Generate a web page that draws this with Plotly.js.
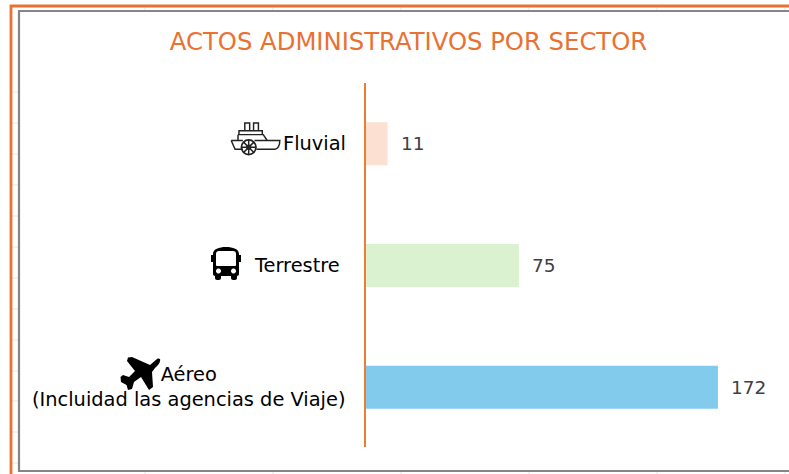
<!DOCTYPE html>
<html><head><meta charset="utf-8">
<script src="https://cdn.plot.ly/plotly-3.0.1.min.js"></script>
<style>html,body{margin:0;padding:0;background:#fff;overflow:hidden}</style>
</head><body><div id="chart" style="width:789px;height:474px"></div>
<script>
const categories = ["Aéreo<br>(Incluidad las agencias de Viaje)", "Terrestre", "Fluvial"];
const values = [172, 75, 11];
const barColors = ["#83CBEC", "#DAF2D0", "#FCE1D3"];
const labelShift = [-17, -23, -17];
const titleText = "ACTOS ADMINISTRATIVOS POR SECTOR";
const ORANGE = "#E97132";
const sheetRows = [92, 123, 154, 185, 216, 247, 278, 309, 340, 371, 401, 432, 463];
const sheetCols = [145, 273, 401, 529, 657, 785];

const W = 789, H = 474, L = 365, T = 83, PW = 424, PH = 365;
const px = x => (x - L) / PW;
const py = y => 1 - (y - T) / PH;

const svg = s => "data:image/svg+xml;charset=utf-8," + encodeURIComponent(s);
const shipSvg = `<svg xmlns="http://www.w3.org/2000/svg" viewBox="0 0 52 36"><g fill="none" stroke="#222" stroke-width="1.5">
<path d="M15 9V1h5v8M24 9V1h5v8M9 9h24v4H9zM8 13v6M8 13h26l4 6"/>
<path d="M1 19h12M25 19h26c0 5-2 9-5 9H27M13 28H5L1 19"/>
<circle cx="19" cy="26" r="7.500" stroke-width="1.800"/><circle cx="19" cy="26" r="2"/>
<path d="M19 18.500v15M11.500 26h15M13.700 20.700l10.600 10.600M24.300 20.700L13.700 31.300"/></g></svg>`;
const busSvg = `<svg xmlns="http://www.w3.org/2000/svg" viewBox="0 0 32 33"><path fill="#000" fill-rule="evenodd" d="M3 7C3 2 9 0 16 0s13 2 13 7v1h2v7h-2v12c0 1-1 2-2 2v2c0 1-1 2-2 2h-2c-1 0-2-1-2-2v-2H11v2c0 1-1 2-2 2H7c-1 0-2-1-2-2v-2c-1 0-2-1-2-2V15H1V8h2zM6 7v11c0 1 1 1 1 1h18s1 0 1-1V7c0-2-1-3-3-3H9C7 4 6 5 6 7zM8.500 21.500a2.500 2.500 0 1 0 .01 0zM23.500 21.500a2.500 2.500 0 1 0 .01 0z"/></svg>`;
const planeSvg = `<svg xmlns="http://www.w3.org/2000/svg" viewBox="0 0 42 35"><path fill="#000" d="M9 1.500L13 1L31 9L38 3C40 2 42 3 41 5C41 7 39 9 36 12L33 16L34 31L30 34L22 21L15 26L13 33L9 34L7.500 29L2 26L1.500 21L4 19L10 21L16 15L8 5z"/></svg>`;

const annotations = categories.map((c, i) => ({
  x: 0, y: c, xref: "x", yref: "y", text: c, showarrow: false, xanchor: "right",
  xshift: labelShift[i], align: "center",
  font: {family: "DejaVu Sans", size: 19.4, color: "#000"}
})).concat(values.map((v, i) => ({
  x: v, y: categories[i], xref: "x", yref: "y", text: String(v), showarrow: false,
  xanchor: "left", xshift: 11,
  font: {family: "DejaVu Sans", size: 18.5, color: "#404040"}
})));

const rect = (x0, y0, x1, y1, color, width) => ({type: "rect", xref: "paper", yref: "paper", layer: "below",
  x0: px(x0), x1: px(x1), y0: py(y0), y1: py(y1), line: {color, width}, fillcolor: "rgba(0,0,0,0)"});
const hLine = y => ({type: "line", xref: "paper", yref: "paper", layer: "below", x0: px(12), x1: px(19), y0: py(y), y1: py(y), line: {color: "#E6E6E6", width: 1}});
const vLine = (x, y0, y1) => ({type: "line", xref: "paper", yref: "paper", layer: "below", x0: px(x), x1: px(x), y0: py(y0), y1: py(y1), line: {color: "#E6E6E6", width: 1}});

Plotly.newPlot("chart", [{
  type: "bar", orientation: "h", y: categories, x: values, width: 0.354,
  marker: {color: barColors, line: {width: 0}}, hoverinfo: "x+y"
}], {
  width: W, height: H, paper_bgcolor: "#fff", plot_bgcolor: "rgba(0,0,0,0)", showlegend: false,
  margin: {l: L, r: 0, t: T, b: H - T - PH, pad: 0},
  title: {text: titleText, x: 408.5 / W, xanchor: "center", y: 1 - 41.5 / H, yanchor: "middle",
    font: {family: "DejaVu Sans", size: 24.3, color: ORANGE}},
  xaxis: {range: [0, PW / 2.052], visible: false, fixedrange: true},
  yaxis: {type: "category", categoryorder: "array", categoryarray: categories, showticklabels: false,
    ticks: "", showgrid: false, zeroline: false, showline: false, fixedrange: true},
  shapes: [
    ...sheetRows.map(hLine),
    ...sheetCols.map(x => vLine(x, 7, 11)),
    ...sheetCols.map(x => vLine(x, 471, 474)),
    rect(11, 6, 900, 600, ORANGE, 2.8),
    rect(19, 11, 900, 471, "#858585", 2.2),
    {type: "line", xref: "paper", yref: "paper", x0: 0, x1: 0, y0: py(83), y1: py(447), line: {color: "#ED7D31", width: 2}}
  ],
  annotations,
  images: [
    {source: svg(shipSvg), xref: "paper", yref: "paper", x: px(230), y: py(122), sizex: 51 / PW, sizey: 35 / PH, xanchor: "left", yanchor: "top", sizing: "contain", layer: "above"},
    {source: svg(busSvg), xref: "paper", yref: "paper", x: px(210), y: py(247), sizex: 32 / PW, sizey: 33 / PH, xanchor: "left", yanchor: "top", sizing: "contain", layer: "above"},
    {source: svg(planeSvg), xref: "paper", yref: "paper", x: px(119), y: py(356), sizex: 42 / PW, sizey: 35 / PH, xanchor: "left", yanchor: "top", sizing: "contain", layer: "above"}
  ]
}, {displayModeBar: false});
</script></body></html>
